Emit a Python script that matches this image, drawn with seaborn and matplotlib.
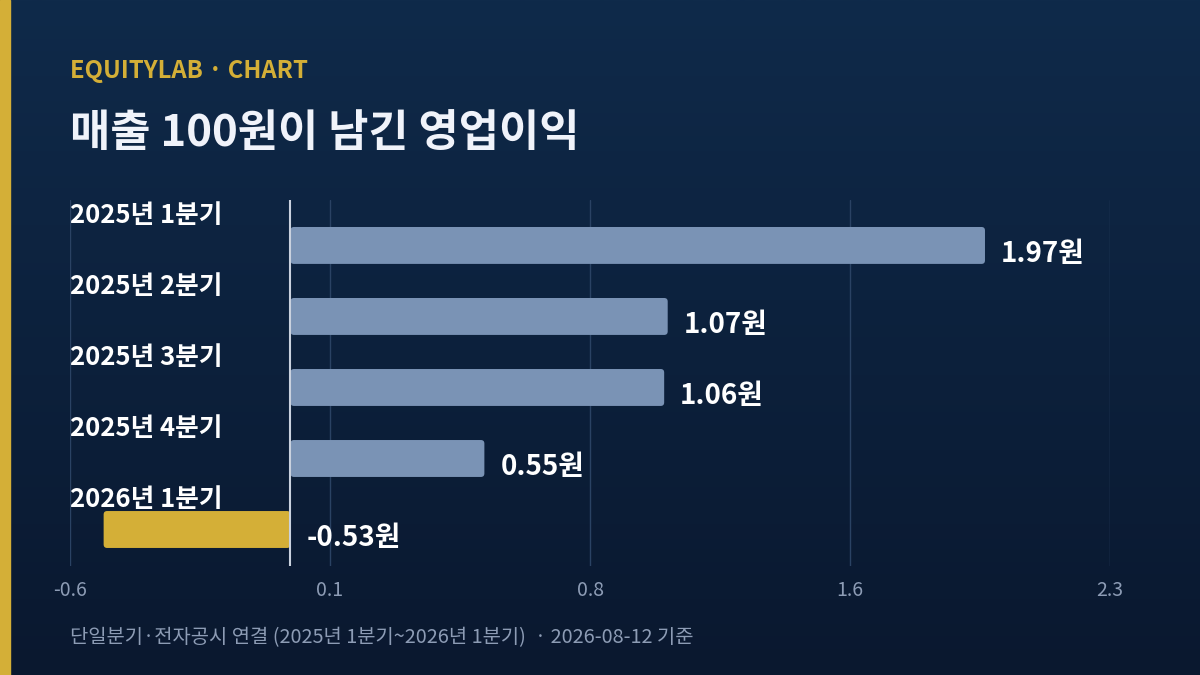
import numpy as np
import pandas as pd
import matplotlib
matplotlib.use("Agg")
import matplotlib.pyplot as plt
import matplotlib.transforms as mtransforms
from matplotlib.colors import LinearSegmentedColormap
from matplotlib.patches import FancyBboxPatch, Rectangle
import seaborn as sns

# ---- data ----
quarters = ["2025년 1분기", "2025년 2분기", "2025년 3분기", "2025년 4분기", "2026년 1분기"]
op_per_100 = [1.97, 1.07, 1.06, 0.55, -0.53]
title = "매출 100원이 남긴 영업이익"
kicker = "EQUITYLAB · CHART"
footer = "단일분기·전자공시 연결 (2025년 1분기~2026년 1분기)  · 2026-08-12 기준"

POS = "#7a93b5"
NEG = "#d4af37"

sns.set_theme(style="white")
plt.rcParams["font.family"] = ["Noto Sans CJK KR", "DejaVu Sans"]

fig = plt.figure(figsize=(12, 6.75), dpi=100)
W, H = 1200, 675

# background gradient
bg = fig.add_axes([0, 0, 1, 1], zorder=0)
grad = np.linspace(0, 1, 256).reshape(-1, 1)
cmap = LinearSegmentedColormap.from_list("bg", ["#0f2a4a", "#0a182f"])
bg.imshow(grad, aspect="auto", cmap=cmap, extent=[0, 1, 0, 1], origin="upper")
bg.axis("off")
fig.patches.append(Rectangle((0, 0), 10 / W, 1, transform=fig.transFigure,
                             color=NEG, zorder=5))

# main axes
ax = fig.add_axes([70 / W, 1 - 566 / H, 1040 / W, 366 / H], zorder=1)
ax.patch.set_alpha(0)

df = pd.DataFrame({"quarter": quarters, "value": op_per_100})
palette = {q: (NEG if v < 0 else POS) for q, v in zip(quarters, op_per_100)}
sns.barplot(data=df, x="value", y="quarter", hue="quarter", palette=palette,
            legend=False, width=0.52, orient="h", ax=ax, saturation=1)

lo, hi = min(op_per_100) * 1.18, max(op_per_100) * 1.18
ax.set_xlim(lo, hi)
ax.set_ylim(len(quarters) - 0.486, -0.64)
ticks = np.linspace(lo, hi, 5)
ax.set_xticks(ticks)
ax.set_xticklabels([f"{t:.1f}" for t in ticks])
ax.set_yticks(range(len(quarters)))
ax.set_yticklabels([])
ax.set_xlabel("")
ax.set_ylabel("")
for s in ax.spines.values():
    s.set_visible(False)
ax.grid(axis="x", color="#2a4263", lw=1)
ax.grid(axis="y", visible=False)
ax.set_axisbelow(True)
ax.tick_params(axis="x", length=0, pad=10, colors="#8d9cb5", labelsize=14)
ax.tick_params(axis="y", length=0)
ax.axvline(0, color="#c9d1de", lw=1.5, zorder=3)

# rounded bars
fig.canvas.draw()
px_x = ax.transData.transform((1, 0))[0] - ax.transData.transform((0, 0))[0]
px_y = abs(ax.transData.transform((0, 1))[1] - ax.transData.transform((0, 0))[1])
r_px = 3.5
for p in list(ax.patches):
    bb = p.get_bbox()
    x0, x1 = min(bb.x0, bb.x1), max(bb.x0, bb.x1)
    y0, y1 = min(bb.y0, bb.y1), max(bb.y0, bb.y1)
    fc = p.get_facecolor()
    p.remove()
    ax.add_patch(FancyBboxPatch((x0, y0), x1 - x0, y1 - y0,
                                boxstyle=f"round,pad=0,rounding_size={r_px / px_x}",
                                mutation_aspect=px_x / px_y,
                                fc=fc, ec="none", zorder=2))

trans = mtransforms.blended_transform_factory(ax.transAxes, ax.transData)
for i, (q, v) in enumerate(zip(quarters, op_per_100)):
    ax.text(0, i - 0.42, q, transform=trans, ha="left", va="center",
            fontsize=18.5, fontweight="bold", color="white")
    ax.annotate(f"{v:.2f}원", xy=(max(v, 0), i), xytext=(16, -9),
                textcoords="offset pixels", ha="left", va="center",
                fontsize=20, fontweight="bold", color="white")

fig.text(70 / W, 1 - 71 / H, kicker, ha="left", va="center", fontsize=17.2,
         fontweight="bold", color=NEG)
fig.text(70 / W, 1 - 133 / H, title, ha="left", va="center", fontsize=31.5,
         fontweight="bold", color="#f0f3fa")
fig.text(70 / W, 1 - 638 / H, footer, ha="left", va="center", fontsize=14.3,
         color="#8d9cb5")

fig.savefig("out.png", dpi=100)
